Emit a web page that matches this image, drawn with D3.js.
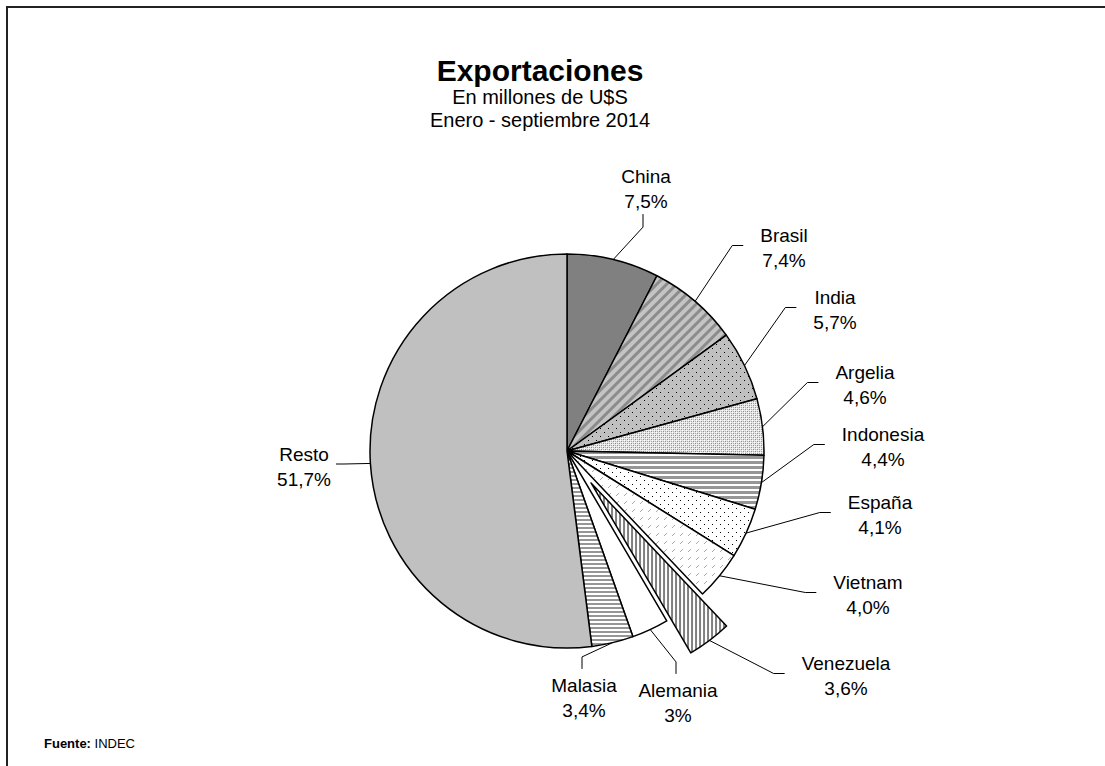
<!DOCTYPE html>
<html><head><meta charset="utf-8">
<script src="https://cdn.jsdelivr.net/npm/d3@7"></script>
<style>
html,body{margin:0;padding:0;background:#fff;}
svg{display:block;font-family:"Liberation Sans",Arial,Helvetica,sans-serif;}
</style></head>
<body>
<svg id="chart" width="1105" height="766"></svg>
<script>
// ---- data ----
const categories = ["China","Brasil","India","Argelia","Indonesia","España","Vietnam","Venezuela","Alemania","Malasia","Resto"];
const shares = [7.5, 7.4, 5.7, 4.6, 4.4, 4.1, 4.0, 3.6, 3.0, 3.4, 51.7];
const pctLabels = ["7,5%","7,4%","5,7%","4,6%","4,4%","4,1%","4,0%","3,6%","3%","3,4%","51,7%"];
const explodedCats = ["Venezuela"];
const titleText = "Exportaciones";
const subtitleLines = ["En millones de U$S","Enero - septiembre 2014"];

// ---- layout (not data) ----
const cx = 567, cy = 451, R = 197, explodeDist = 40;
const labelOffset = [[79,-262],[217,-203],[268,-141],[298,-66],[316,-4],[313,64],[301,144],[279,225],[111,252],[17,247],[-263,16]];
const labelSide = ["b","l","l","l","l","l","l","l","t","t","r"];
const fills = ["url(#pChina)","url(#pBrasil)","url(#pIndia)","url(#pArgelia)","url(#pIndonesia)","url(#pEspana)","url(#pVietnam)","url(#pVenezuela)","#ffffff","url(#pMalasia)","#c0c0c0"];

const svg = d3.select("#chart");
const defs = svg.append("defs");

function pat(id, w, h, build, transform){
  const p = defs.append("pattern").attr("id", id).attr("patternUnits","userSpaceOnUse")
    .attr("width", w).attr("height", h);
  if (transform) p.attr("patternTransform", transform);
  build(p);
}
pat("pChina", 4, 4, p => p.append("rect").attr("width",4).attr("height",4).attr("fill","#808080"));
pat("pBrasil", 7, 7, p => {
  p.append("rect").attr("width",7).attr("height",7).attr("fill","#c4c4c4");
  p.append("rect").attr("width",3).attr("height",7).attr("fill","#8c8c8c");
}, "rotate(45)");
pat("pIndia", 8, 8, p => {
  p.append("rect").attr("width",8).attr("height",8).attr("fill","#c0c0c0");
  p.append("rect").attr("x",1).attr("y",1).attr("width",1).attr("height",1).attr("fill","#000");
  p.append("rect").attr("x",5).attr("y",5).attr("width",1).attr("height",1).attr("fill","#000");
});
pat("pArgelia", 4, 4, p => {
  p.append("rect").attr("width",4).attr("height",4).attr("fill","#e6e6e6");
  p.append("rect").attr("x",0).attr("y",0).attr("width",1).attr("height",1).attr("fill","#8c8c8c");
  p.append("rect").attr("x",2).attr("y",2).attr("width",1).attr("height",1).attr("fill","#8c8c8c");
  p.append("rect").attr("x",2).attr("y",0).attr("width",1).attr("height",1).attr("fill","#aaa");
  p.append("rect").attr("x",0).attr("y",2).attr("width",1).attr("height",1).attr("fill","#aaa");
  p.append("rect").attr("x",1).attr("y",1).attr("width",1).attr("height",1).attr("fill","#fff");
  p.append("rect").attr("x",3).attr("y",3).attr("width",1).attr("height",1).attr("fill","#fff");
});
pat("pIndonesia", 5, 5, p => {
  p.append("rect").attr("width",5).attr("height",5).attr("fill","#fff");
  p.append("rect").attr("width",5).attr("height",3).attr("fill","#969696");
});
pat("pEspana", 8, 8, p => {
  p.append("rect").attr("width",8).attr("height",8).attr("fill","#fff");
  p.append("rect").attr("x",1).attr("y",1).attr("width",1).attr("height",1).attr("fill","#000");
  p.append("rect").attr("x",5).attr("y",5).attr("width",1).attr("height",1).attr("fill","#000");
});
pat("pVietnam", 8, 8, p => {
  p.append("rect").attr("width",8).attr("height",8).attr("fill","#fff");
  p.append("line").attr("x1",1).attr("y1",5).attr("x2",4).attr("y2",2).attr("stroke","#aaa").attr("stroke-width",1);
});
pat("pVenezuela", 4, 4, p => {
  p.append("rect").attr("width",4).attr("height",4).attr("fill","#fff");
  p.append("rect").attr("width",2).attr("height",4).attr("fill","#808080");
});
pat("pMalasia", 4, 4, p => {
  p.append("rect").attr("width",4).attr("height",4).attr("fill","#fff");
  p.append("rect").attr("width",4).attr("height",2).attr("fill","#969696");
});

// chart border (extends past the window)
svg.append("rect").attr("x",7).attr("y",7).attr("width",1200).attr("height",900)
  .attr("fill","none").attr("stroke","#222").attr("stroke-width",2);

// title
const tx = 540;
svg.append("text").attr("x",tx).attr("y",81).attr("text-anchor","middle")
  .attr("font-size",30).attr("font-weight","bold").attr("fill","#000").text(titleText);
svg.selectAll("text.sub").data(subtitleLines).join("text").attr("class","sub")
  .attr("x",tx).attr("y",(d,i)=>104+i*23).attr("text-anchor","middle")
  .attr("font-size",20).attr("fill","#000").text(d=>d);

// pie
const rows = categories.map((c,i)=>({cat:c, value:shares[i], pct:pctLabels[i], i}));
const pie = d3.pie().sort(null).value(d=>d.value);
const arcs = pie(rows);
const arc = d3.arc().innerRadius(0).outerRadius(R);

function offsetOf(a){
  if (!explodedCats.includes(a.data.cat)) return [0,0];
  const m = (a.startAngle+a.endAngle)/2;
  return [explodeDist*Math.sin(m), -explodeDist*Math.cos(m)];
}

const g = svg.append("g").attr("transform",`translate(${cx},${cy})`);
g.selectAll("path.slice").data(arcs).join("path").attr("class","slice")
  .attr("transform", d=>{const o=offsetOf(d); return `translate(${o[0]},${o[1]})`;})
  .attr("d", arc)
  .attr("fill", d=>fills[d.data.i])
  .attr("stroke","#000").attr("stroke-width",1.5).attr("stroke-linejoin","round");

// labels
const fs = 19, lh = 24.5;
arcs.forEach(a=>{
  const i = a.data.i;
  const lx = cx + labelOffset[i][0], ly = cy + labelOffset[i][1];
  const t = svg.append("text").attr("text-anchor","middle").attr("font-size",fs).attr("fill","#000");
  const t1 = t.append("tspan").attr("x",lx).attr("y", ly - lh/2 + fs*0.35).text(a.data.cat);
  const t2 = t.append("tspan").attr("x",lx).attr("y", ly + lh/2 + fs*0.35).text(a.data.pct);
  const w = Math.max(t1.node().getComputedTextLength(), t2.node().getComputedTextLength());
  const m = (a.startAngle+a.endAngle)/2;
  const o = offsetOf(a);
  const p0 = [cx + o[0] + R*Math.sin(m), cy + o[1] - R*Math.cos(m)];
  const top = ly - lh/2 - fs*0.36, bottom = ly + lh/2 + fs*0.36;
  let end, elbow;
  const s = labelSide[i];
  if (s === "l"){ end = [lx - w/2 - 17, ly - 2.5]; elbow = [end[0]-11, end[1]]; }
  else if (s === "r"){ end = [lx + w/2 + 5, ly - 3]; elbow = [end[0]+8, end[1]]; }
  else if (s === "t"){ end = [lx - 2, top - 10]; elbow = [end[0], end[1]-12]; }
  else { end = [lx - 3, bottom + 6]; elbow = [end[0], end[1]+13]; }
  svg.append("polyline").attr("points",[p0,elbow,end].map(p=>p.join(",")).join(" "))
    .attr("fill","none").attr("stroke","#000").attr("stroke-width",1);
});

// source
const src = svg.append("text").attr("x",44).attr("y",748).attr("font-size",13).attr("fill","#000");
src.append("tspan").attr("font-weight","bold").text("Fuente:");
src.append("tspan").text(" INDEC");
</script>
</body></html>
